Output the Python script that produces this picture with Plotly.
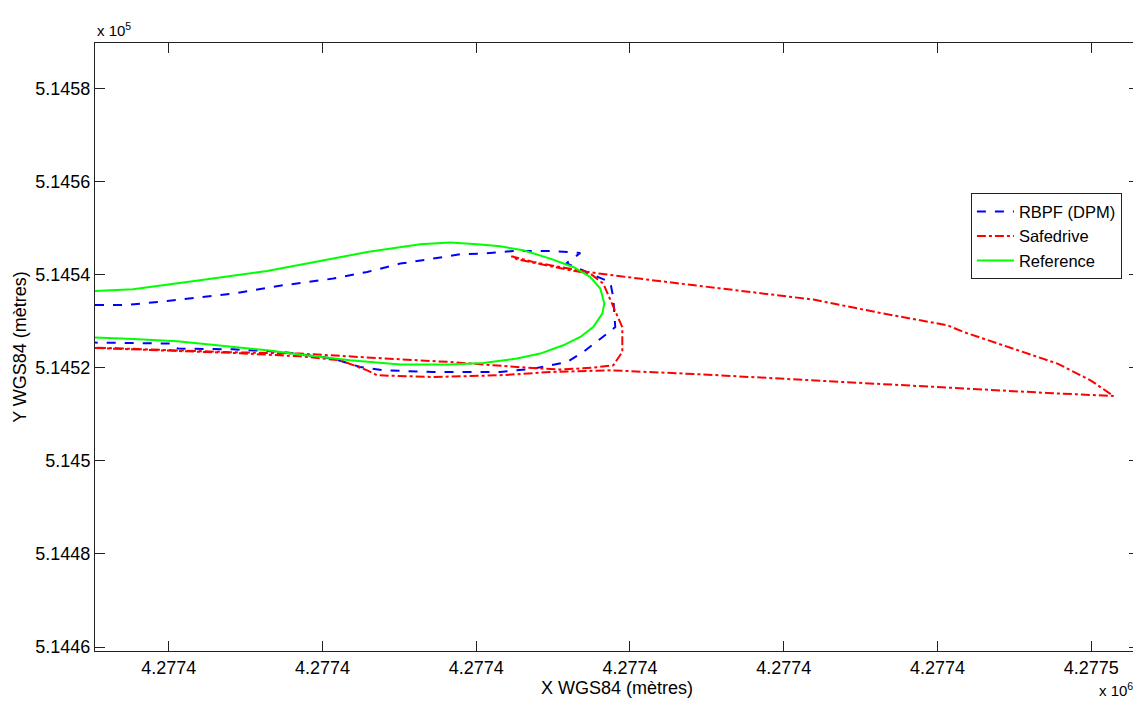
import plotly.graph_objects as go

# ---------------- data (metres, WGS84) ----------------
ref_x = [4277385.21, 4277387.68, 4277392.04, 4277396.40, 4277400.70, 4277402.91, 4277406.36,
         4277408.31, 4277410.07, 4277411.56, 4277413.06, 4277414.81, 4277416.31, 4277417.42,
         4277418.07, 4277418.33, 4277418.20, 4277417.61, 4277416.77, 4277415.66, 4277414.16,
         4277412.65, 4277410.46, 4277408.31, 4277405.06, 4277401.80, 4277398.55, 4277396.40,
         4277393.15, 4277390.55, 4277387.68, 4277385.54, 4277385.21]
ref_y = [514536.48, 514536.84, 514538.78, 514540.77, 514543.44, 514544.86, 514546.51,
         514546.87, 514546.51, 514546.08, 514545.22, 514543.44, 514541.63, 514539.48,
         514536.99, 514533.77, 514531.62, 514528.74, 514526.60, 514524.81, 514523.03,
         514521.96, 514521.01, 514520.67, 514520.67, 514521.59, 514522.81, 514523.74,
         514524.81, 514525.67, 514526.17, 514526.47, 514526.47]

rbpf_x = [4277385.21, 4277387.29, 4277389.90, 4277394.19, 4277397.44, 4277400.70, 4277402.91,
          4277405.06, 4277407.20, 4277408.96, 4277410.46, 4277412.41, 4277415.01, 4277416.77,
          4277415.86, 4277417.42, 4277418.72, 4277418.91, 4277419.04, 4277418.52, 4277416.96,
          4277415.92, 4277413.71, 4277411.56, 4277407.20, 4277403.95, 4277402.45, 4277400.70,
          4277397.44, 4277394.19, 4277390.61, 4277390.29, 4277385.54, 4277385.21]
rbpf_y = [514533.47, 514533.47, 514534.33, 514535.92, 514537.70, 514539.14, 514540.56,
          514542.36, 514543.44, 514544.36, 514544.51, 514545.07, 514545.07, 514544.64,
          514542.43, 514540.28, 514538.35, 514535.12, 514528.74, 514527.33, 514523.37,
          514521.22, 514519.81, 514519.08, 514519.08, 514519.44, 514520.15, 514521.96,
          514523.37, 514523.95, 514524.10, 514525.18, 514525.39, 514525.39]

safe_x = [4277385.21, 4277389.90, 4277394.19, 4277398.55, 4277401.15, 4277402.91, 4277403.56,
          4277407.20, 4277411.56, 4277414.81, 4277418.72, 4277424.57, 4277429.78, 4277436.29,
          4277442.79, 4277447.15, 4277451.44, 4277449.95, 4277447.80, 4277444.94, 4277441.69,
          4277440.64, 4277436.29, 4277431.93, 4277427.63, 4277423.27, 4277419.37, 4277417.42,
          4277415.92, 4277413.71, 4277412.28, 4277412.65, 4277415.92, 4277417.42, 4277418.26,
          4277418.91, 4277419.50, 4277419.50, 4277418.91, 4277417.61, 4277415.47, 4277412.65,
          4277408.31, 4277405.06, 4277401.15, 4277398.55, 4277394.19, 4277389.90, 4277385.21]
safe_y = [514524.23, 514523.74, 514523.16, 514522.45, 514521.59, 514519.44, 514518.37,
          514518.00, 514518.37, 514519.08, 514519.44, 514518.58, 514517.66, 514516.43,
          514515.30, 514514.57, 514513.92, 514517.29, 514520.88, 514524.10, 514527.67,
          514529.11, 514531.75, 514534.63, 514536.26, 514538.07, 514539.64, 514540.49,
          514541.35, 514542.71, 514543.93, 514543.29, 514541.07, 514540.21, 514538.07,
          514533.04, 514528.68, 514523.37, 514520.52, 514520.02, 514519.59, 514520.15,
          514521.22, 514521.80, 514522.45, 514523.03, 514523.31, 514523.85, 514524.32]

x_tickvals = [4277390, 4277400, 4277410, 4277420, 4277430, 4277440, 4277450]
x_ticktext = ["4.2774", "4.2774", "4.2774", "4.2774", "4.2774", "4.2774", "4.2775"]
y_tickvals = [514460, 514480, 514500, 514520, 514540, 514560, 514580]
y_ticktext = ["5.1446", "5.1448", "5.145", "5.1452", "5.1454", "5.1456", "5.1458"]

FONT = "Liberation Sans, Arial, Helvetica, sans-serif"
AXC = "#222222"

fig = go.Figure()
fig.add_trace(go.Scatter(x=rbpf_x, y=rbpf_y, mode="lines", name="RBPF (DPM)",
                         line=dict(color="#0000FF", width=2, dash="dash")))
fig.add_trace(go.Scatter(x=safe_x, y=safe_y, mode="lines", name="Safedrive",
                         line=dict(color="#FF0000", width=2, dash="dashdot")))
fig.add_trace(go.Scatter(x=ref_x, y=ref_y, mode="lines", name="Reference",
                         line=dict(color="#00FF00", width=2)))

axis_common = dict(showgrid=False, zeroline=False, showline=True, linecolor=AXC, linewidth=1,
                   ticks="inside", ticklen=10, tickcolor=AXC, tickwidth=1, mirror="ticks",
                   tickfont=dict(family=FONT, size=18, color="#000"), tickmode="array")

# page body has an 8 px margin: figure is sized/offset so the plot box lands
# at x 95..1139, y 43..651 in the 1141x702 window
fig.update_layout(
    width=1133, height=694,
    margin=dict(l=87, r=2, t=35, b=51),
    paper_bgcolor="white", plot_bgcolor="white",
    font=dict(family=FONT, size=18, color="#000"),
    xaxis=dict(range=[4277385.21, 4277453.1], tickvals=x_tickvals, ticktext=x_ticktext,
               title=dict(text="X WGS84 (mètres)", font=dict(family=FONT, size=18), standoff=2),
               **axis_common),
    yaxis=dict(range=[514459.14, 514589.75], tickvals=y_tickvals, ticktext=y_ticktext,
               title=dict(text="Y WGS84 (mètres)", font=dict(family=FONT, size=18), standoff=4),
               **axis_common),
    legend=dict(x=0.839, y=0.7528, xanchor="left", yanchor="top",
                bgcolor="white", bordercolor=AXC, borderwidth=1,
                font=dict(family=FONT, size=16.5, color="#000"),
                itemwidth=37, tracegroupgap=0),
    showlegend=True,
)

fig.add_annotation(x=0, y=1, xref="paper", yref="paper", xanchor="left", yanchor="bottom",
                   text="x 10<sup>5</sup>", showarrow=False, yshift=2,
                   font=dict(family=FONT, size=15, color="#000"))
fig.add_annotation(x=1, y=0, xref="paper", yref="paper", xanchor="right", yanchor="top",
                   text="x 10<sup>6</sup>", showarrow=False, yshift=-27, xshift=-4,
                   font=dict(family=FONT, size=15, color="#000"))

fig.write_html("out.html")
